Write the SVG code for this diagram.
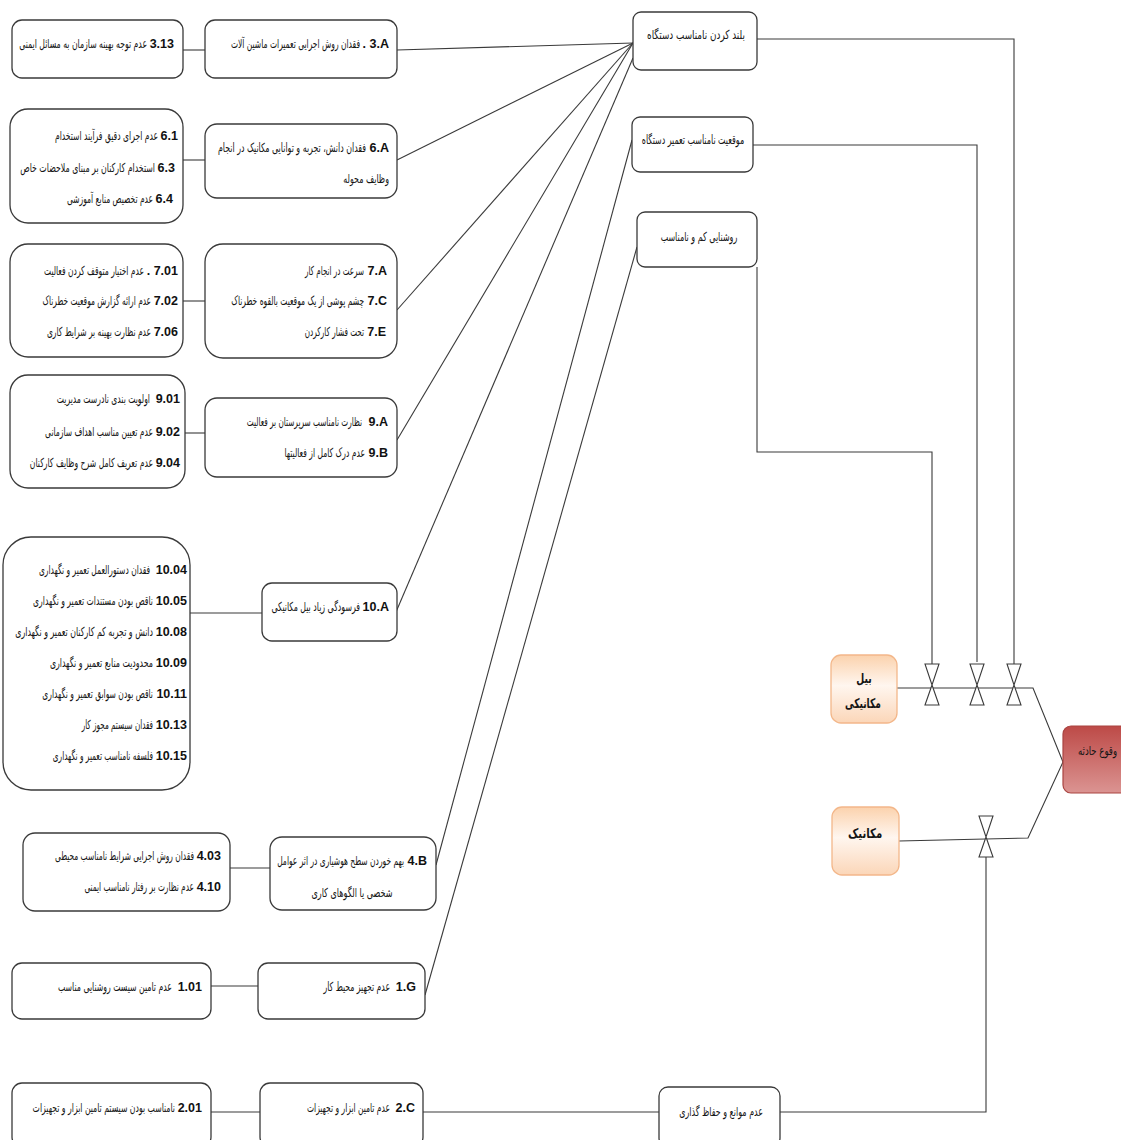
<svg xmlns="http://www.w3.org/2000/svg" width="1121" height="1140" viewBox="0 0 1121 1140">
<defs>
<style>
.box{fill:#fff;stroke:#3a3a3a;stroke-width:1.3}
.ln{fill:none;stroke:#3a3a3a;stroke-width:1.1}
.t{font-family:"DejaVu Sans",sans-serif;font-size:12.5px;fill:#151515;text-anchor:end}
.c{text-anchor:middle}
.n{font-family:"Liberation Sans","DejaVu Sans",sans-serif;font-weight:bold;font-size:12.5px;fill:#111;text-anchor:end}
.b{font-weight:bold;font-size:13.5px}
.valve{fill:#fff;stroke:#3a3a3a;stroke-width:1.1}
</style>
<linearGradient id="og" x1="0" y1="0" x2="0" y2="1">
<stop offset="0" stop-color="#fbd2ad"/>
<stop offset="0.45" stop-color="#fff6ef"/>
<stop offset="1" stop-color="#fbd6b8"/>
</linearGradient>
<linearGradient id="rg" x1="0" y1="0" x2="0" y2="1">
<stop offset="0" stop-color="#bd4a47"/>
<stop offset="1" stop-color="#db9492"/>
</linearGradient>
<g id="vshape"><path class="valve" d="M-7,-21 L7,-21 L0,0 Z M0,0 L-7,20 L7,20 Z"/></g>
</defs>
<rect width="1121" height="1140" fill="#fff"/>

<g id="connectors">
<line class="ln" x1="183" y1="50" x2="205" y2="50"/>
<line class="ln" x1="183" y1="160" x2="205" y2="160"/>
<line class="ln" x1="183" y1="301" x2="205" y2="301"/>
<line class="ln" x1="185" y1="433" x2="205" y2="433"/>
<line class="ln" x1="190" y1="613" x2="262" y2="613"/>
<line class="ln" x1="230" y1="868" x2="270" y2="868"/>
<line class="ln" x1="211" y1="986" x2="258" y2="986"/>
<line class="ln" x1="211" y1="1112" x2="260" y2="1112"/>
<line class="ln" x1="423" y1="1112" x2="659" y2="1112"/>
<polyline class="ln" points="780,1112 986,1112 986,857"/>
<line class="ln" x1="397" y1="50" x2="633" y2="43"/>
<line class="ln" x1="397" y1="160" x2="633" y2="43"/>
<line class="ln" x1="397" y1="310" x2="633" y2="43"/>
<line class="ln" x1="397" y1="440" x2="633" y2="43"/>
<line class="ln" x1="396" y1="612" x2="633" y2="58"/>
<line class="ln" x1="436" y1="865" x2="632" y2="140"/>
<line class="ln" x1="425" y1="995" x2="637" y2="247"/>
<polyline class="ln" points="757,39 1014,39 1014,664"/>
<polyline class="ln" points="742,145 977,145 977,662"/>
<polyline class="ln" points="757,267 757,452 932,452 932,664"/>
<polyline class="ln" points="897,688 1033,688 1063,762 1028,838 899,841"/>
<use href="#vshape" x="932" y="685"/>
<use href="#vshape" x="977" y="685"/>
<use href="#vshape" x="1014" y="685"/>
<use href="#vshape" x="986" y="837"/>
</g>

<g id="n313"><rect class="box" x="12" y="20" width="171" height="58" rx="10"/>
<text class="n" x="174" y="48">3.13</text>
<text class="t" x="147" y="48" transform="matrix(0.619 0 0 1 56 0)">عدم توجه بهینه سازمان به مسائل ایمنی</text></g>
<g id="n3A"><rect class="box" x="205" y="20" width="192" height="58" rx="10"/>
<text class="n" x="389" y="48">. 3.A</text>
<text class="t" x="360" y="48" transform="matrix(0.605 0 0 1 142.2 0)">فقدان روش اجرایی تعمیرات ماشین آلات</text></g>

<g id="n6list"><rect class="box" x="10" y="109" width="173" height="114" rx="18"/>
<text class="n" x="178" y="140">6.1</text>
<text class="t" x="158" y="140" transform="matrix(0.612 0 0 1 61.3 0)">عدم اجرای دقیق فرآیند استخدام</text>
<text class="n" x="175" y="172">6.3</text>
<text class="t" x="155" y="172" transform="matrix(0.628 0 0 1 57.7 0)">استخدام کارکنان بر مبنای ملاحضات خاص</text>
<text class="n" x="173" y="203">6.4</text>
<text class="t" x="153" y="203" transform="matrix(0.601 0 0 1 61 0)">عدم تخصیص منابع آموزشی</text></g>
<g id="n6A"><rect class="box" x="205" y="124" width="192" height="74" rx="12"/>
<text class="n" x="389" y="152">6.A</text>
<text class="t" x="366" y="152" transform="matrix(0.631 0 0 1 135.1 0)">فقدان دانش، تجربه و توانایی مکانیک در انجام</text>
<text class="t" x="389" y="183" transform="matrix(0.637 0 0 1 141.2 0)">وظایف محوله</text></g>

<g id="n7list"><rect class="box" x="10" y="244" width="173" height="113" rx="18"/>
<text class="n" x="178" y="275">. 7.01</text>
<text class="t" x="144" y="275" transform="matrix(0.605 0 0 1 56.9 0)">عدم اختیار متوقف کردن فعالیت</text>
<text class="n" x="178" y="305">7.02</text>
<text class="t" x="151" y="305" transform="matrix(0.595 0 0 1 61.2 0)">عدم ارائه گزارش موقعیت خطرناک</text>
<text class="n" x="178" y="336">7.06</text>
<text class="t" x="151" y="336" transform="matrix(0.604 0 0 1 59.8 0)">عدم نظارت بهینه بر شرایط کاری</text></g>
<g id="n7"><rect class="box" x="205" y="244" width="192" height="114" rx="18"/>
<text class="n" x="387" y="275">7.A</text>
<text class="t" x="364" y="275" transform="matrix(0.574 0 0 1 155.1 0)">سرعت در انجام کار</text>
<text class="n" x="387" y="305">7.C</text>
<text class="t" x="364" y="305" transform="matrix(0.602 0 0 1 144.9 0)">چشم پوشی از یک موقعیت بالقوه خطرناک</text>
<text class="n" x="386" y="336">7.E</text>
<text class="t" x="364" y="336" transform="matrix(0.582 0 0 1 152.2 0)">تحت فشار کارکردن</text></g>

<g id="n9list"><rect class="box" x="10" y="375" width="175" height="113" rx="18"/>
<text class="n" x="180" y="403">9.01</text>
<text class="t" x="150" y="403" transform="matrix(0.614 0 0 1 57.9 0)">اولویت بندی نادرست مدیریت</text>
<text class="n" x="180" y="436">9.02</text>
<text class="t" x="153" y="436" transform="matrix(0.603 0 0 1 60.7 0)">عدم تعیین مناسب اهداف سازمانی</text>
<text class="n" x="180" y="467">9.04</text>
<text class="t" x="153" y="467" transform="matrix(0.615 0 0 1 58.9 0)">عدم تعریف کامل شرح وظایف کارکنان</text></g>
<g id="n9"><rect class="box" x="205" y="398" width="192" height="79" rx="12"/>
<text class="n" x="388" y="426">9.A</text>
<text class="t" x="362" y="426" transform="matrix(0.587 0 0 1 149.5 0)">نظارت نامناسب سرپرستان بر فعالیت</text>
<text class="n" x="388" y="457">9.B</text>
<text class="t" x="365" y="457" transform="matrix(0.607 0 0 1 143.4 0)">عدم درک کامل از فعالیتها</text></g>

<g id="n10list"><rect class="box" x="3" y="537" width="187" height="253" rx="28"/>
<text class="n" x="187" y="574">10.04</text>
<text class="t" x="150" y="574" transform="matrix(0.601 0 0 1 59.9 0)">فقدان دستورالعمل تعمیر و نگهداری</text>
<text class="n" x="187" y="605">10.05</text>
<text class="t" x="153" y="605" transform="matrix(0.613 0 0 1 59.2 0)">ناقص بودن مستندات تعمیر و نگهداری</text>
<text class="n" x="187" y="636">10.08</text>
<text class="t" x="153" y="636" transform="matrix(0.629 0 0 1 56.8 0)">دانش و تجربه کم کارکنان تعمیر و نگهداری</text>
<text class="n" x="187" y="667">10.09</text>
<text class="t" x="153" y="667" transform="matrix(0.628 0 0 1 56.9 0)">محدودیت منابع تعمیر و نگهداری</text>
<text class="n" x="187" y="698">10.11</text>
<text class="t" x="153" y="698" transform="matrix(0.605 0 0 1 60.4 0)">ناقص بودن سوابق تعمیر و نگهداری</text>
<text class="n" x="187" y="729">10.13</text>
<text class="t" x="153" y="729" transform="matrix(0.576 0 0 1 64.9 0)">فقدان سیستم مجوز کار</text>
<text class="n" x="187" y="760">10.15</text>
<text class="t" x="153" y="760" transform="matrix(0.59 0 0 1 62.7 0)">فلسفه نامناسب تعمیر و نگهداری</text></g>
<g id="n10A"><rect class="box" x="262" y="583" width="135" height="58" rx="10"/>
<text class="n" x="389" y="611">10.A</text>
<text class="t" x="360" y="611" transform="matrix(0.627 0 0 1 134.3 0)">فرسودگی زیاد بیل مکانیکی</text></g>

<g id="n4list"><rect class="box" x="23" y="833" width="207" height="78" rx="12"/>
<text class="n" x="221" y="860">4.03</text>
<text class="t" x="194" y="860" transform="matrix(0.596 0 0 1 78.4 0)">فقدان روش اجرایی شرایط نامناسب محیطی</text>
<text class="n" x="221" y="891">4.10</text>
<text class="t" x="194" y="891" transform="matrix(0.591 0 0 1 79.3 0)">عدم نظارت بر رفتار نامناسب ایمنی</text></g>
<g id="n4B"><rect class="box" x="270" y="837" width="166" height="73" rx="12"/>
<text class="n" x="427" y="865">4.B</text>
<text class="t" x="404" y="865" transform="matrix(0.602 0 0 1 160.8 0)">بهم خوردن سطح هوشیاری در اثر عوامل</text>
<text class="t c" x="352" y="897" transform="matrix(0.648 0 0 1 123.9 0)">شخصی یا الگوهای کاری</text></g>

<g id="n101"><rect class="box" x="12" y="963" width="199" height="56" rx="10"/>
<text class="n" x="202" y="991">1.01</text>
<text class="t" x="172" y="991" transform="matrix(0.622 0 0 1 65 0)">عدم تامین سیست روشنایی مناسب</text></g>
<g id="n1G"><rect class="box" x="258" y="963" width="167" height="56" rx="10"/>
<text class="n" x="416" y="991">1.G</text>
<text class="t" x="390" y="991" transform="matrix(0.618 0 0 1 149 0)">عدم تجهیز محیط کار</text></g>

<g id="n201"><rect class="box" x="12" y="1083" width="199" height="64" rx="10"/>
<text class="n" x="202" y="1112">2.01</text>
<text class="t" x="175" y="1112" transform="matrix(0.62 0 0 1 66.5 0)">نامناسب بودن سیستم تامین ابزار و تجهیزات</text></g>
<g id="n2C"><rect class="box" x="260" y="1083" width="163" height="64" rx="10"/>
<text class="n" x="415" y="1112">2.C</text>
<text class="t" x="390" y="1112" transform="matrix(0.604 0 0 1 154.4 0)">عدم تامین ابزار و تجهیزات</text></g>

<g id="nMawane"><rect class="box" x="659" y="1087" width="121" height="60" rx="9"/>
<text class="t" x="763" y="1116" transform="matrix(0.636 0 0 1 277.7 0)">عدم موانع و حفاظ گذاری</text></g>

<g id="nA1"><rect class="box" x="633" y="12" width="124" height="58" rx="8"/>
<text class="t c" x="696" y="39" transform="matrix(0.706 0 0 1 204.6 0)">بلند کردن نامناسب دستگاه</text></g>
<g id="nA2"><rect class="box" x="632" y="117" width="121" height="55" rx="8"/>
<text class="t c" x="693" y="144" transform="matrix(0.633 0 0 1 254.3 0)">موقعیت نامناسب تعمیر دستگاه</text></g>
<g id="nA3"><rect class="box" x="637" y="212" width="120" height="55" rx="8"/>
<text class="t c" x="699" y="241" transform="matrix(0.636 0 0 1 254.4 0)">روشنایی کم و نامناسب</text></g>

<g id="nBil"><rect x="831" y="655" width="66" height="68" rx="10" fill="url(#og)" stroke="#f3b78a" stroke-width="1.3"/>
<text class="t c b" x="864" y="683" transform="matrix(0.68 0 0 1 276.5 0)">بیل</text>
<text class="t c b" x="863" y="708" transform="matrix(0.673 0 0 1 282.2 0)">مکانیکی</text></g>
<g id="nMekanik"><rect x="832" y="807" width="67" height="68" rx="10" fill="url(#og)" stroke="#f3b78a" stroke-width="1.3"/>
<text class="t c b" x="865" y="838" transform="matrix(0.75 0 0 1 216.3 0)">مکانیک</text></g>
<g id="nHadese"><rect x="1063" y="726" width="70" height="67" rx="8" fill="url(#rg)" stroke="#a94441" stroke-width="1.2"/>
<text class="t" x="1117" y="755" transform="matrix(0.685 0 0 1 351.9 0)">وقوع حادثه</text></g>
</svg>
